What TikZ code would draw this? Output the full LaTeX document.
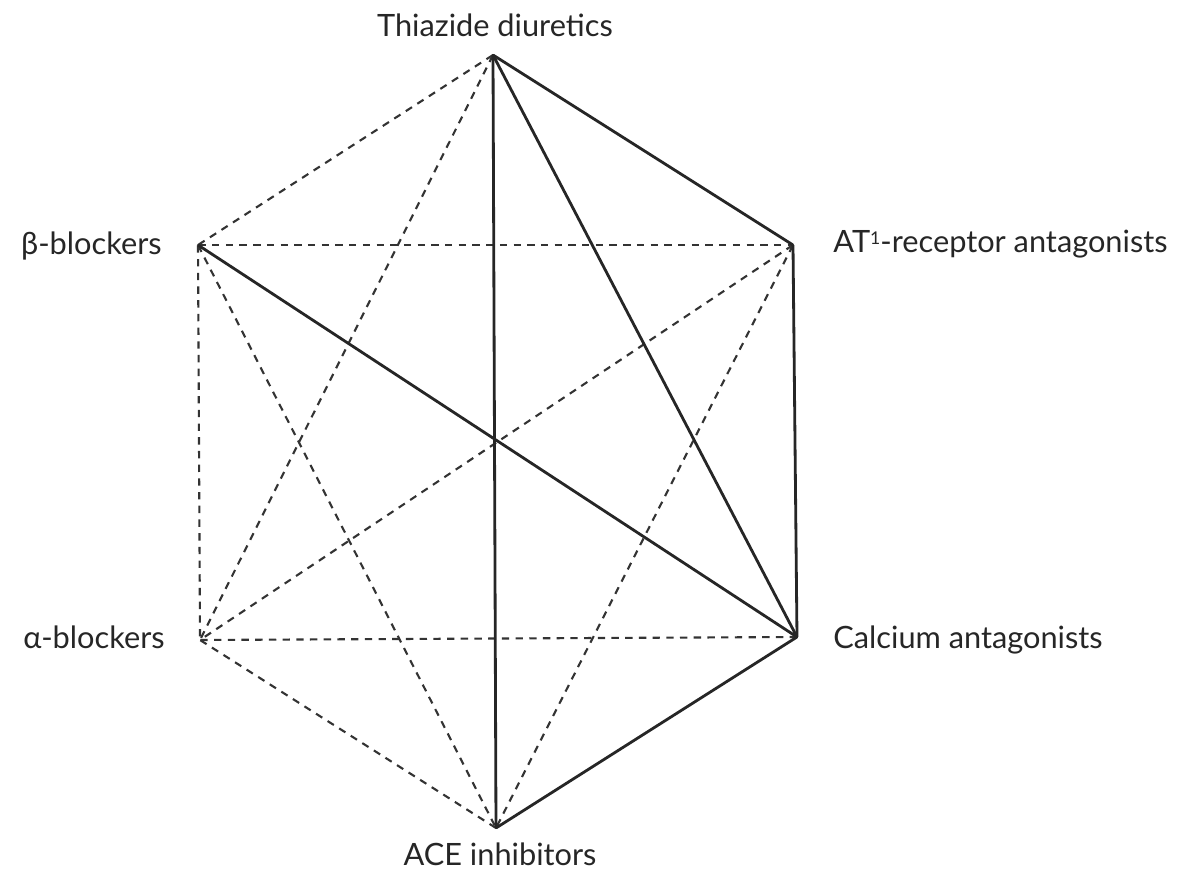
\documentclass[tikz,border=0pt]{standalone}
\usepackage{fontspec}
\setmainfont{Lato}
\usepackage{tikz}
\usetikzlibrary{positioning}

\begin{document}
\begin{tikzpicture}[
    x=0.02cm,y=-0.02cm,font=\fontsize{17.5}{20}\selectfont,
    vtx/.style={inner sep=0pt,minimum size=0pt},
    drug/.style={inner sep=0pt,text=black!85},
    good/.style={draw=black!85,line width=1.6pt,line cap=round},
    weak/.style={draw=black!80,line width=1.2pt,dash pattern=on 4.2pt off 3.6pt}
]
\useasboundingbox (0,0) rectangle (1191,875);

% vertices of the hexagon
\node[vtx] (thz) at (493,55) {};
\node[vtx] (at1) at (793,245) {};
\node[vtx] (cal) at (797,637) {};
\node[vtx] (ace) at (496,828) {};
\node[vtx] (alp) at (200,640) {};
\node[vtx] (bet) at (198,245) {};

% labels
\node[drug,anchor=base] (lthz) at (495,37) {Thiazide diuretics};
\node[drug,anchor=base west] (lat1) at (833,253) {AT\raisebox{0.55ex}{\fontsize{10}{10}\selectfont 1}-receptor antagonists};
\node[drug,anchor=base west] (lcal) at (833,648) {Calcium antagonists};
\node[drug,anchor=base] (lace) at (500,865) {ACE inhibitors};
\node[drug,anchor=base east] (lalp) at (165,648) {α-blockers};
\node[drug,anchor=base east] (lbet) at (162,255) {β-blockers};

% dashed combinations
\foreach \a/\b in {thz/bet,thz/alp,bet/at1,bet/alp,bet/ace,at1/alp,at1/ace,alp/cal,alp/ace} {
  \draw[weak] (\a) -- (\b);
}

% solid combinations
\foreach \a/\b in {thz/at1,thz/cal,thz/ace,bet/cal,at1/cal,cal/ace} {
  \draw[good] (\a) -- (\b);
}
\end{tikzpicture}
\end{document}
